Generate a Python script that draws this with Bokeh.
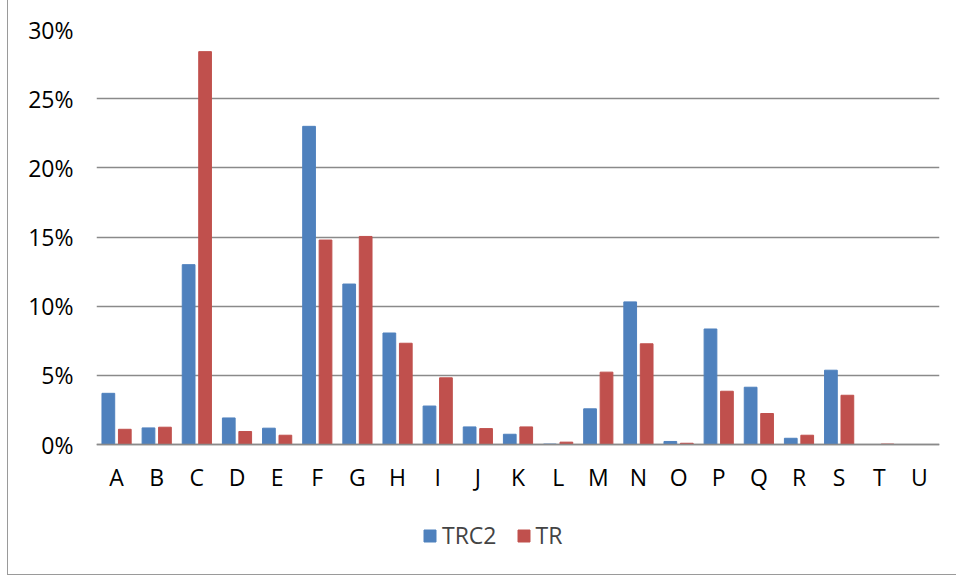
from bokeh.plotting import figure
from bokeh.models import (FactorRange, Range1d, NumeralTickFormatter, FixedTicker,
                          ColumnDataSource, Legend, LegendItem)
from bokeh.transform import dodge
from bokeh.embed import file_html
from bokeh.resources import INLINE

categories = ["A", "B", "C", "D", "E", "F", "G", "H", "I", "J", "K",
              "L", "M", "N", "O", "P", "Q", "R", "S", "T", "U"]
trc2 = [3.70, 1.20, 13.00, 1.92, 1.18, 23.00, 11.60, 8.06, 2.78, 1.27, 0.74,
        0.03, 2.58, 10.31, 0.22, 8.35, 4.14, 0.45, 5.37, 0.00, 0.00]
tr = [1.10, 1.25, 28.40, 0.94, 0.67, 14.78, 15.04, 7.32, 4.82, 1.15, 1.27,
      0.17, 5.23, 7.28, 0.09, 3.85, 2.24, 0.67, 3.56, 0.03, 0.00]
y_ticks = [0, 0.05, 0.10, 0.15, 0.20, 0.25, 0.30]
series_names = ["TRC2", "TR"]

BLUE = "#4F81BD"
RED = "#C0504D"
GRID = "#8A8A8A"
FONT = "Open Sans"

src = ColumnDataSource(dict(cat=categories,
                            trc2=[v / 100 for v in trc2],
                            tr=[v / 100 for v in tr]))

# frame spans from the 30% line down to the bottom edge; the x axis sits at 0
y_bottom = -130 / 415 * 0.30

p = figure(x_range=FactorRange(*categories), y_range=Range1d(y_bottom, 0.30),
           width=949, height=575, output_backend="svg", toolbar_location=None,
           min_border_left=88, min_border_right=18, min_border_top=29,
           min_border_bottom=1)
p.styles = {"border-left": "1px solid #9a9a9a", "border-bottom": "1px solid #9a9a9a",
            "margin-left": "7px"}
p.x_range.range_padding = 0
p.outline_line_color = None
p.background_fill_color = "white"
p.border_fill_color = "white"

r1 = p.vbar(x=dodge("cat", -0.205, range=p.x_range), top="trc2", width=0.317,
            source=src, fill_color=BLUE, line_color=BLUE)
r2 = p.vbar(x=dodge("cat", 0.205, range=p.x_range), top="tr", width=0.317,
            source=src, fill_color=RED, line_color=RED)

p.xgrid.grid_line_color = None
p.ygrid.grid_line_color = GRID
p.ygrid.grid_line_width = 1.6
p.yaxis.ticker = FixedTicker(ticks=y_ticks)
p.yaxis.formatter = NumeralTickFormatter(format="0%")
p.yaxis.axis_line_color = None
p.yaxis.major_tick_line_color = None
p.yaxis.minor_tick_line_color = None
p.yaxis.major_tick_out = 0
p.yaxis.major_label_standoff = 23
p.yaxis.major_label_text_font = FONT
p.yaxis.major_label_text_font_size = "23px"
p.yaxis.major_label_text_color = "black"

p.xaxis.fixed_location = 0
p.xaxis.axis_line_color = GRID
p.xaxis.axis_line_width = 1.6
p.xaxis.major_tick_line_color = None
p.xaxis.major_tick_out = 0
p.xaxis.major_label_standoff = 16
p.xaxis.major_label_text_font = FONT
p.xaxis.major_label_text_font_size = "23px"
p.xaxis.major_label_text_color = "black"

legend = Legend(items=[LegendItem(label=series_names[0], renderers=[r1]),
                       LegendItem(label=series_names[1], renderers=[r2])],
                location=(326, 23), orientation="horizontal",
                padding=0, margin=0, spacing=19, label_standoff=5,
                glyph_width=15, glyph_height=15,
                label_text_font=FONT, label_text_font_size="23px",
                border_line_color=None, background_fill_alpha=0)
p.add_layout(legend, "center")

open("out.html", "w").write(file_html(p, INLINE))
